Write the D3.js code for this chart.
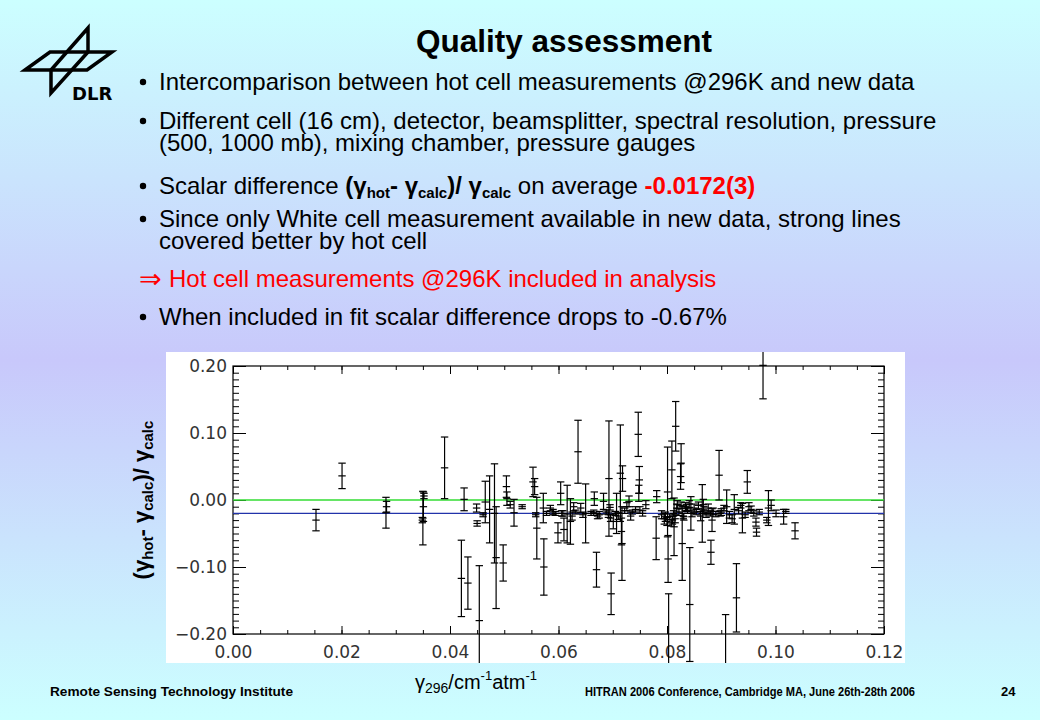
<!DOCTYPE html>
<html lang="en">
<head>
<meta charset="UTF-8"/>
<title>Quality assessment</title>
<script src="https://d3js.org/d3.v7.min.js" charset="utf-8"></script>
<style type="text/css">
    body { margin: 0; }
    text { font-family: "Liberation Sans", Arial, sans-serif; }
</style>
</head>
<body>
<div id="slide"></div>
<script type="text/javascript">

// gamma_296 (cm-1 atm-1), relative difference and its error
var gamma = [
    0.0153, 0.0201, 0.0282, 0.0283, 0.0350, 0.0351, 0.0352, 0.0349, 0.0390, 0.0426,
    0.0421, 0.0433, 0.0449, 0.0450, 0.0454, 0.0461, 0.0465, 0.0473, 0.0482, 0.0485,
    0.0498, 0.0504, 0.0505, 0.0511, 0.0518, 0.0533, 0.0553, 0.0556, 0.0558, 0.0560,
    0.0573, 0.0572, 0.0585, 0.0594, 0.0599, 0.0604, 0.0606, 0.0610, 0.0616, 0.0622,
    0.0625, 0.0628, 0.0636, 0.0641, 0.0650, 0.0665, 0.0666, 0.0670, 0.0675, 0.0683,
    0.0693, 0.0695, 0.0696, 0.0697, 0.0701, 0.0707, 0.0714, 0.0717, 0.0716, 0.0718,
    0.0726, 0.0730, 0.0733, 0.0742, 0.0747, 0.0749, 0.0748, 0.0750, 0.0761, 0.0780,
    0.0781, 0.0797, 0.0801, 0.0802, 0.0803, 0.0809, 0.0810, 0.0813, 0.0816, 0.0819,
    0.0825, 0.0826, 0.0828, 0.0831, 0.0836, 0.0842, 0.0844, 0.0865, 0.0867, 0.0881,
    0.0883, 0.0896, 0.0898, 0.0908, 0.0910, 0.0924, 0.0928, 0.0939, 0.0948, 0.0951,
    0.0964, 0.0965, 0.0977, 0.0984, 0.0987, 0.1001, 0.1015, 0.1019, 0.1036,
    0.0578, 0.0590, 0.0608, 0.0632, 0.0645, 0.0660, 0.0672, 0.0688, 0.0692, 0.0705,
    0.0710, 0.0722, 0.0736, 0.0755, 0.0790, 0.0795, 0.0800, 0.0805, 0.0808, 0.0812,
    0.0815, 0.0818, 0.0822, 0.0826, 0.0830, 0.0834, 0.0838, 0.0841, 0.0846, 0.0850,
    0.0854, 0.0858, 0.0862, 0.0868, 0.0872, 0.0876, 0.0880, 0.0885, 0.0890, 0.0900,
    0.0905, 0.0915, 0.0920, 0.0932, 0.0936, 0.0944, 0.0955, 0.0960, 0.0970, 0.0992
];
var diff = [
    -0.030, 0.036, -0.019, -0.010, -0.027, -0.010, 0.006, -0.030, 0.048, 0.001,
    -0.117, -0.124, -0.012, -0.035, -0.180, -0.022, -0.003, -0.014, -0.020, -0.086,
    -0.094, 0.020, 0.002, -0.007, -0.019, -0.010, 0.027, 0.020, -0.022, -0.042,
    -0.100, -0.012, -0.012, -0.020, -0.049, 0.010, -0.020, -0.044, -0.021, -0.032,
    -0.024, -0.010, 0.072, -0.012, -0.020, -0.019, 0.002, -0.104, -0.022, -0.002,
    0.032, -0.011, -0.027, -0.140, -0.032, -0.020, 0.040, -0.065, -0.047, 0.032,
    -0.010, -0.002, -0.024, -0.014, 0.098, 0.030, 0.010, -0.015, -0.007, -0.057,
    0.005, -0.025, 0.012, -0.088, -0.260, 0.045, -0.030, -0.040, 0.110, -0.007,
    0.035, 0.055, -0.065, -0.025, -0.012, -0.156, -0.020, -0.020, -0.007, -0.078,
    -0.030, 0.037, -0.020, -0.265, -0.010, -0.014, -0.146, -0.027, 0.027, -0.010,
    -0.033, -0.048, 0.201, -0.030, -0.012, -0.020, -0.025, -0.017, -0.046,
    -0.020, -0.018, -0.020, -0.018, -0.022, -0.020, -0.024, -0.018, -0.022, -0.020,
    -0.024, -0.016, -0.018, -0.020, -0.022, -0.028, -0.032, -0.025, -0.034, -0.020,
    -0.028, -0.012, -0.018, -0.008, -0.024, -0.010, -0.016, -0.006, -0.020, -0.012,
    -0.018, -0.008, -0.024, -0.015, -0.022, -0.012, -0.020, -0.017, -0.021, -0.018,
    -0.012, -0.022, -0.028, -0.016, -0.008, -0.022, -0.014, -0.020, -0.018, -0.008
];
var sigma = [
    0.016, 0.019, 0.023, 0.008, 0.040, 0.022, 0.004, 0.004, 0.046, 0.017,
    0.057, 0.039, 0.006, 0.004, 0.082, 0.003, 0.031, 0.050, 0.074, 0.076,
    0.027, 0.016, 0.010, 0.005, 0.020, 0.003, 0.022, 0.012, 0.003, 0.046,
    0.042, 0.022, 0.004, 0.003, 0.015, 0.017, 0.004, 0.017, 0.043, 0.034,
    0.006, 0.006, 0.047, 0.007, 0.044, 0.004, 0.010, 0.026, 0.005, 0.012,
    0.086, 0.004, 0.005, 0.031, 0.011, 0.030, 0.072, 0.055, 0.020, 0.019,
    0.006, 0.008, 0.006, 0.004, 0.033, 0.020, 0.012, 0.005, 0.006, 0.032,
    0.009, 0.007, 0.067, 0.035, 0.120, 0.043, 0.006, 0.043, 0.037, 0.006,
    0.019, 0.029, 0.055, 0.005, 0.005, 0.085, 0.025, 0.043, 0.008, 0.018,
    0.017, 0.037, 0.004, 0.094, 0.025, 0.022, 0.051, 0.022, 0.017, 0.006,
    0.006, 0.006, 0.050, 0.004, 0.026, 0.005, 0.011, 0.003, 0.012,
    0.003, 0.004, 0.004, 0.003, 0.004, 0.003, 0.004, 0.003, 0.004, 0.003,
    0.005, 0.004, 0.003, 0.004, 0.006, 0.008, 0.006, 0.004, 0.005, 0.004,
    0.006, 0.006, 0.005, 0.005, 0.004, 0.006, 0.004, 0.005, 0.005, 0.006,
    0.004, 0.005, 0.007, 0.005, 0.004, 0.006, 0.004, 0.005, 0.004, 0.005,
    0.004, 0.005, 0.006, 0.005, 0.004, 0.004, 0.005, 0.004, 0.004, 0.008
];
var meanLine = -0.020;
var xTicks = [0, 0.02, 0.04, 0.06, 0.08, 0.10, 0.12];
var yTicks = [-0.2, -0.1, 0, 0.1, 0.2];

var W = 1040, H = 720;
var svg = d3.select("#slide").append("svg")
    .attr("width", W)
    .attr("height", H);

// background
var defs = svg.append("defs");
var grad = defs.append("linearGradient").attr("id", "bg")
    .attr("x1", 0).attr("y1", 0).attr("x2", 0).attr("y2", 1);
grad.append("stop").attr("offset", "0%").attr("stop-color", "#ccffff");
grad.append("stop").attr("offset", "50%").attr("stop-color", "#c8c8fb");
grad.append("stop").attr("offset", "100%").attr("stop-color", "#ccffff");
svg.append("rect").attr("width", W).attr("height", H).attr("fill", "url(#bg)");

// DLR logo
var logo = svg.append("g")
    .attr("fill", "none").attr("stroke", "black")
    .attr("stroke-width", 3.5).attr("stroke-linejoin", "miter");
logo.append("path").attr("d", "M25,70 L50,52 L112,52 L87,70 Z");
logo.append("path").attr("d", "M88,52 L88,28 L51,70 L51,93 Z");
svg.append("text").attr("x", 72).attr("y", 100)
    .style("font-family", "'DejaVu Sans', sans-serif")
    .style("font-weight", "bold").style("font-size", "18px")
    .text("DLR");

// title
svg.append("text").attr("x", 564).attr("y", 52)
    .attr("text-anchor", "middle")
    .style("font-weight", "bold").style("font-size", "31.5px")
    .text("Quality assessment");

// bullets
var fs = 24;
function line(yy, xx) {
    return svg.append("text").attr("x", xx || 159).attr("y", yy)
        .style("font-size", fs + "px");
}
function dot(yy) {
    svg.append("circle").attr("cx", 143).attr("cy", yy - 8).attr("r", 3.2).attr("fill", "black");
}
dot(90);  line(90).text("Intercomparison between hot cell measurements @296K and new data");
dot(129); line(129).text("Different cell (16 cm), detector, beamsplitter, spectral resolution, pressure");
line(151).text("(500, 1000 mb), mixing chamber, pressure gauges");
dot(194);
var t3 = line(194);
t3.append("tspan").text("Scalar difference ");
t3.append("tspan").style("font-weight", "bold").text("(γ");
t3.append("tspan").style("font-weight", "bold").style("font-size", "15px").attr("dy", 4).text("hot");
t3.append("tspan").style("font-weight", "bold").attr("dy", -4).text("- γ");
t3.append("tspan").style("font-weight", "bold").style("font-size", "15px").attr("dy", 4).text("calc");
t3.append("tspan").style("font-weight", "bold").attr("dy", -4).text(")/ γ");
t3.append("tspan").style("font-weight", "bold").style("font-size", "15px").attr("dy", 4).text("calc");
t3.append("tspan").attr("dy", -4).text(" on average ");
t3.append("tspan").style("font-weight", "bold").attr("fill", "#ff0000").text("-0.0172(3)");
dot(227); line(227).text("Since only White cell measurement available in new data, strong lines");
line(249).text("covered better by hot cell");
svg.append("text").attr("x", 139).attr("y", 288)
    .style("font-family", "'DejaVu Sans', sans-serif").style("font-size", "27px")
    .attr("fill", "#ff0000").text("⇒");
line(287, 169).attr("fill", "#ff0000").text("Hot cell measurements @296K included in analysis");
dot(325); line(325).text("When included in fit scalar difference drops to -0.67%");

// plot panel
var panel = {x: 166, y: 352, w: 739, h: 311};
var plot = {left: 233, right: 884, top: 366, bottom: 634};

svg.append("rect")
    .attr("x", panel.x).attr("y", panel.y)
    .attr("width", panel.w).attr("height", panel.h)
    .attr("fill", "white");

defs.append("clipPath").attr("id", "clip")
    .append("rect")
    .attr("x", panel.x).attr("y", panel.y)
    .attr("width", panel.w).attr("height", panel.h);

var x = d3.scaleLinear().domain([0, 0.12]).range([plot.left, plot.right]);
var y = d3.scaleLinear().domain([-0.2, 0.2]).range([plot.bottom, plot.top]);

var xMinor = d3.range(0, 0.1201, 0.005);
var yMinor = d3.range(-0.2, 0.2001, 0.01);

function noDomain(g) { g.select(".domain").remove(); }

svg.append("g").attr("transform", "translate(0," + plot.bottom + ")")
    .call(d3.axisBottom(x).tickValues(xMinor).tickSize(-4).tickFormat("")).call(noDomain);
svg.append("g").attr("transform", "translate(0," + plot.top + ")")
    .call(d3.axisTop(x).tickValues(xMinor).tickSize(-4).tickFormat("")).call(noDomain);
svg.append("g").attr("transform", "translate(" + plot.left + ",0)")
    .call(d3.axisLeft(y).tickValues(yMinor).tickSize(-6).tickFormat("")).call(noDomain);
svg.append("g").attr("transform", "translate(" + plot.right + ",0)")
    .call(d3.axisRight(y).tickValues(yMinor).tickSize(-6).tickFormat("")).call(noDomain);

svg.append("g").attr("transform", "translate(" + plot.right + ",0)")
    .call(d3.axisRight(y).tickValues(yTicks).tickSize(-13).tickFormat("")).call(noDomain);
svg.append("g").attr("transform", "translate(0," + plot.top + ")")
    .call(d3.axisTop(x).tickValues(xTicks).tickSize(-8).tickFormat("")).call(noDomain);

var xAxis = svg.append("g").attr("transform", "translate(0," + plot.bottom + ")")
    .call(d3.axisBottom(x).tickValues(xTicks).tickSize(-8).tickPadding(12)
        .tickFormat(d3.format(".2f")))
    .call(noDomain);
var yAxis = svg.append("g").attr("transform", "translate(" + plot.left + ",0)")
    .call(d3.axisLeft(y).tickValues(yTicks).tickSize(-13).tickPadding(6)
        .tickFormat(d3.format(".2f")))
    .call(noDomain);

[xAxis, yAxis].forEach(function(g) {
    g.selectAll("text")
        .style("font-family", "'DejaVu Sans', sans-serif")
        .style("font-size", "17px")
        .attr("fill", "#333");
});
svg.selectAll(".tick line").attr("stroke", "black");

svg.append("rect")
    .attr("x", plot.left).attr("y", plot.top)
    .attr("width", plot.right - plot.left).attr("height", plot.bottom - plot.top)
    .attr("fill", "none").attr("stroke", "black").attr("stroke-width", 1.2);

// reference lines
svg.append("line")
    .attr("x1", x(0)).attr("x2", x(0.12))
    .attr("y1", y(0)).attr("y2", y(0))
    .attr("stroke", "#33dd33").attr("stroke-width", 1.3);
svg.append("line")
    .attr("x1", x(0)).attr("x2", x(0.12))
    .attr("y1", y(meanLine)).attr("y2", y(meanLine))
    .attr("stroke", "#2233aa").attr("stroke-width", 1.3);

// error bars
var idx = d3.range(gamma.length);
var bars = svg.append("g").attr("clip-path", "url(#clip)")
    .attr("stroke", "black").attr("stroke-width", 1.2);
var cap = 3.7;

bars.selectAll("line.v").data(idx).enter().append("line")
    .attr("x1", function(i) { return x(gamma[i]); })
    .attr("x2", function(i) { return x(gamma[i]); })
    .attr("y1", function(i) { return y(diff[i] - sigma[i]); })
    .attr("y2", function(i) { return y(diff[i] + sigma[i]); });

[-1, 0, 1].forEach(function(k) {
    bars.selectAll("line.h" + (k + 1)).data(idx).enter().append("line")
        .attr("x1", function(i) { return x(gamma[i]) - cap; })
        .attr("x2", function(i) { return x(gamma[i]) + cap; })
        .attr("y1", function(i) { return y(diff[i] + k * sigma[i]); })
        .attr("y2", function(i) { return y(diff[i] + k * sigma[i]); });
});

// axis titles
var yt = svg.append("text")
    .attr("transform", "translate(149,500) rotate(-90)")
    .attr("text-anchor", "middle")
    .style("font-weight", "bold").style("font-size", "22px");
yt.append("tspan").text("(γ");
yt.append("tspan").style("font-size", "15px").attr("dy", 4).text("hot");
yt.append("tspan").attr("dy", -4).text("- γ");
yt.append("tspan").style("font-size", "15px").attr("dy", 4).text("calc");
yt.append("tspan").attr("dy", -4).text(")/ γ");
yt.append("tspan").style("font-size", "15px").attr("dy", 4).text("calc");

var xt = svg.append("text").attr("x", 415).attr("y", 689)
    .style("font-size", "20px");
xt.append("tspan").text("γ");
xt.append("tspan").style("font-size", "14px").attr("dy", 4).text("296");
xt.append("tspan").attr("dy", -4).text("/cm");
xt.append("tspan").style("font-size", "13px").attr("dy", -9).text("-1");
xt.append("tspan").attr("dy", 9).text("atm");
xt.append("tspan").style("font-size", "13px").attr("dy", -9).text("-1");

// footer
svg.append("text").attr("x", 50).attr("y", 696)
    .style("font-weight", "bold").style("font-size", "13px")
    .attr("textLength", 243).attr("lengthAdjust", "spacingAndGlyphs")
    .text("Remote Sensing  Technology  Institute");
svg.append("text").attr("x", 585).attr("y", 696)
    .style("font-weight", "bold").style("font-size", "13px")
    .attr("textLength", 330).attr("lengthAdjust", "spacingAndGlyphs")
    .text("HITRAN 2006 Conference, Cambridge MA,  June 26th-28th 2006");
svg.append("text").attr("x", 1001).attr("y", 696)
    .style("font-weight", "bold").style("font-size", "13px")
    .text("24");

</script>
</body>
</html>
